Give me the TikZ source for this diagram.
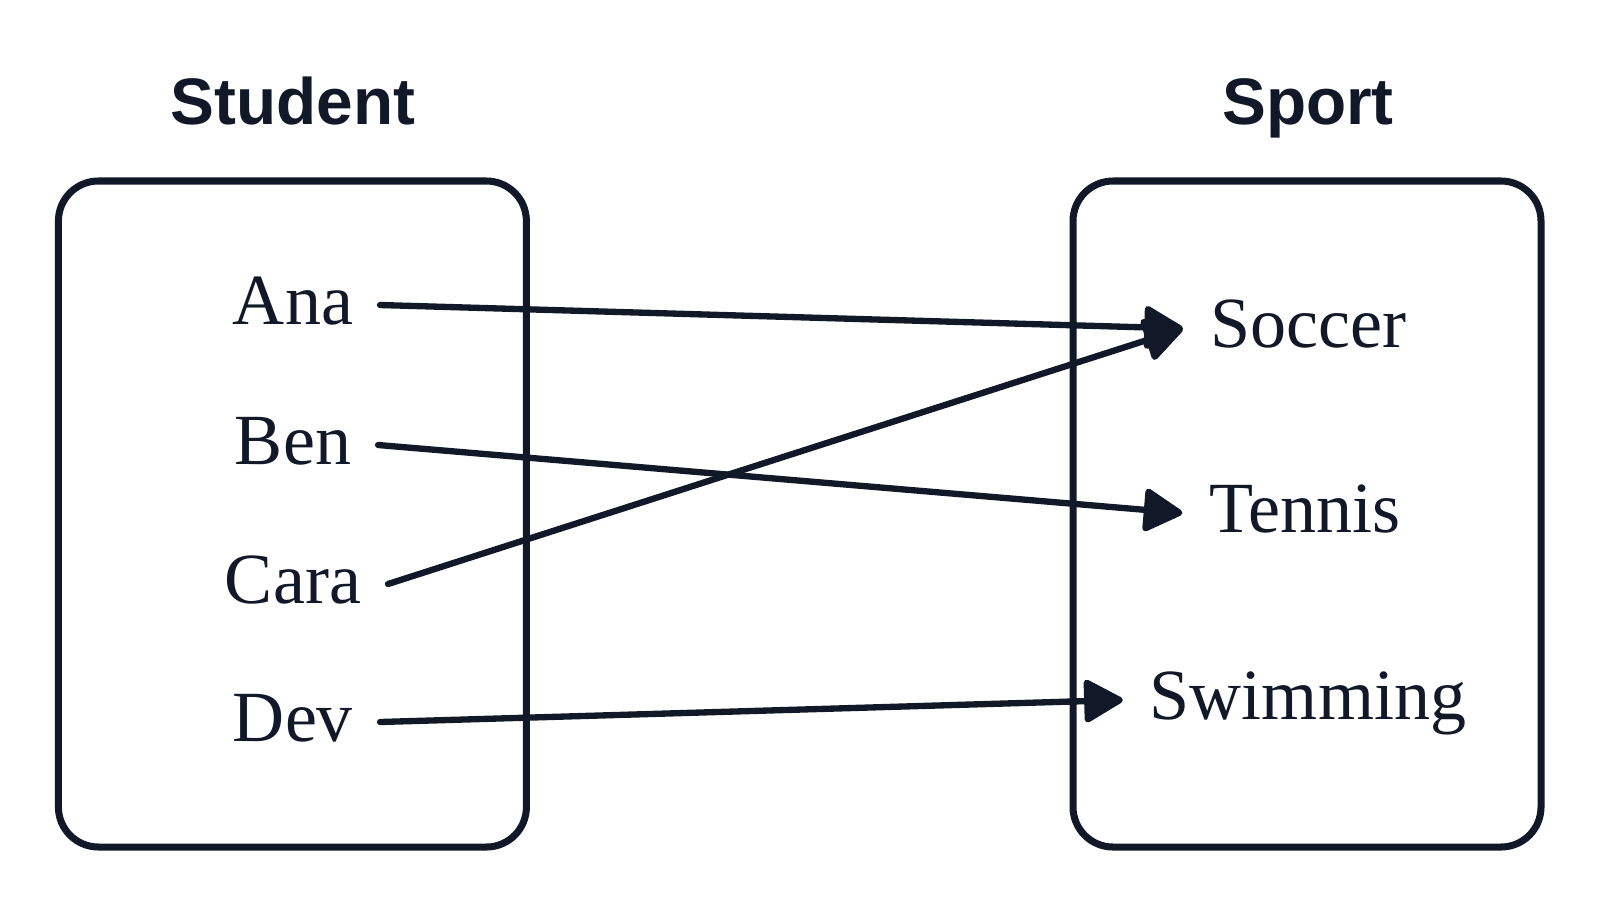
\documentclass[tikz,border=0pt]{standalone}
\usepackage{fontspec}
\setmainfont{Liberation Serif}
\newfontfamily\titlefont{Liberation Sans}
\usetikzlibrary{positioning}
\usetikzlibrary{arrows.meta}
\definecolor{ink}{HTML}{111827}

\begin{document}
\begin{tikzpicture}[
    setbox/.style={draw=ink, line width=2pt, rounded corners=0.4cm, minimum width=4.68cm, minimum height=6.66cm, inner sep=0pt},
    heading/.style={font=\titlefont\bfseries\fontsize{18.7}{22}\selectfont, text=ink, anchor=base},
    item/.style={font=\fontsize{20.5}{24}\selectfont, text=ink, text height=14pt, text depth=3pt, inner xsep=7.5pt, inner ysep=0pt},
    maps/.style={draw=ink, line width=1.8pt, line cap=round, -{Triangle[length=12pt, width=13pt, round]}}
  ]
  \useasboundingbox (0,0) rectangle (16,-9.06);

  % the two sets
  \node[setbox] (students) at (2.924,-5.14) {};
  \node[setbox] (sports) at (13.07,-5.14) {};
  \node[heading] (studenttitle) at (2.93,-1.24) {Student};
  \node[heading] (sporttitle) at (13.08,-1.24) {Sport};

  % elements of each set
  \foreach \name/\y in {Ana/3.05, Ben/4.45, Cara/5.84, Dev/7.22}
    {\node[item] (\name) at (2.93,-\y) {\name};}
  \node[item] (Soccer) at (13.08,-3.285) {Soccer};
  \node[item] (Tennis) at (13.05,-5.13) {Tennis};
  \node[item] (Swimming) at (13.08,-7.00) {Swimming};

  \draw[maps] (Ana.east) -- (Soccer.west);
  \draw[maps] (Ben.east) -- (Tennis.west);
  \draw[maps] (Cara.east) -- (Soccer.west);
  \draw[maps] (Dev.east) -- (Swimming.west);
\end{tikzpicture}
\end{document}
